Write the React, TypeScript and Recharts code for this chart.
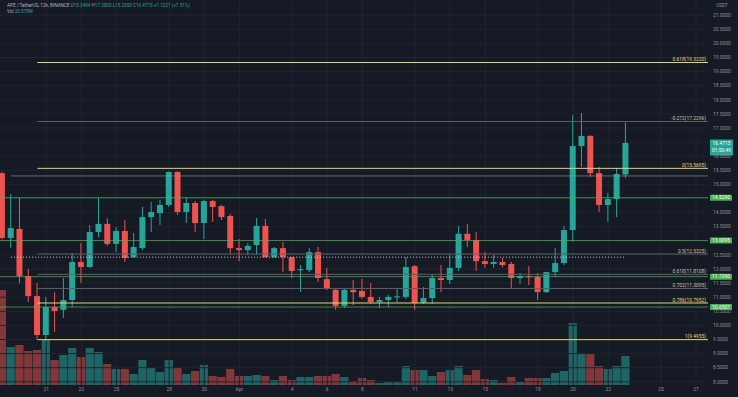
import React from 'react';
import { ComposedChart, Bar, XAxis, YAxis, CartesianGrid, ReferenceLine, Cell } from 'recharts';

// ---- data (12h candles, APE/USDT) ----
const opens = [15.40, 13.10, 13.42, 11.75, 11.04, 9.66, 10.65, 10.55, 10.90, 12.25, 12.07, 13.31, 13.60, 12.89, 13.35, 12.43, 12.74, 13.84, 13.98, 14.27, 15.44, 14.02, 14.34, 13.63, 14.41, 14.23, 13.88, 12.74, 12.67, 12.85, 13.53, 12.42, 12.74, 12.42, 11.96, 11.96, 12.60, 11.64, 11.26, 10.69, 11.26, 11.22, 11.01, 10.83, 10.90, 11.00, 11.01, 12.10, 10.80, 10.97, 11.68, 11.61, 12.04, 13.25, 13.03, 12.28, 12.18, 12.25, 12.18, 11.68, 11.74, 11.72, 11.18, 11.89, 12.21, 13.38, 16.36, 16.72, 15.40, 14.27, 14.48, 15.35];
const highs = [15.45, 14.65, 14.52, 12.00, 11.50, 11.00, 11.18, 11.68, 12.57, 12.92, 13.56, 14.52, 13.80, 13.49, 13.74, 13.28, 14.20, 14.38, 14.45, 15.46, 15.47, 14.55, 14.41, 14.45, 14.45, 14.27, 13.95, 13.06, 12.92, 13.81, 13.77, 12.78, 12.96, 12.44, 12.14, 12.74, 12.78, 12.04, 11.29, 11.29, 11.61, 11.65, 11.50, 11.01, 11.08, 11.33, 12.42, 12.14, 11.36, 11.79, 12.14, 12.50, 13.53, 13.60, 13.31, 12.60, 12.50, 12.39, 12.25, 11.86, 12.10, 11.86, 11.90, 12.74, 13.53, 17.46, 17.53, 16.75, 15.62, 14.70, 15.58, 17.20];
const lows = [13.05, 12.75, 11.50, 10.83, 9.50, 9.45, 9.77, 10.26, 10.65, 11.50, 12.04, 13.13, 12.82, 12.60, 12.25, 12.39, 12.67, 13.31, 13.56, 14.20, 13.92, 13.63, 13.31, 13.06, 13.67, 13.74, 12.53, 12.28, 12.50, 12.50, 12.40, 12.39, 11.89, 11.68, 11.18, 11.89, 11.54, 11.25, 10.55, 10.62, 10.72, 10.94, 10.76, 10.62, 10.65, 10.83, 10.94, 10.55, 10.76, 10.76, 11.18, 11.47, 11.93, 12.78, 11.93, 12.04, 12.04, 12.07, 11.33, 11.47, 11.43, 10.90, 11.15, 11.72, 12.14, 12.96, 15.62, 15.27, 14.02, 13.67, 13.84, 15.23];
const closes = [13.10, 13.45, 11.75, 11.04, 9.66, 10.65, 10.51, 10.90, 12.25, 12.07, 13.31, 13.60, 12.89, 13.35, 12.39, 12.78, 13.84, 14.02, 14.27, 15.44, 14.02, 14.34, 13.63, 14.41, 14.20, 13.84, 12.74, 12.67, 12.82, 13.53, 12.42, 12.74, 12.42, 11.93, 11.99, 12.60, 11.68, 11.29, 10.69, 11.26, 11.18, 11.01, 10.83, 10.90, 11.01, 11.03, 12.07, 10.80, 10.97, 11.68, 11.61, 12.04, 13.25, 13.03, 12.28, 12.18, 12.25, 12.14, 11.68, 11.75, 11.71, 11.18, 11.89, 12.21, 13.38, 16.36, 16.72, 15.40, 14.27, 14.48, 15.37, 16.47];
const volumes = [9.5, 3.8, 4.0, 3.4, 3.5, 4.5, 2.5, 3.0, 3.7, 2.8, 3.7, 3.3, 2.1, 1.6, 1.6, 1.1, 2.5, 1.7, 1.3, 2.5, 1.7, 1.1, 1.4, 2.0, 0.9, 0.8, 1.6, 0.9, 0.9, 1.0, 0.9, 0.5, 0.9, 0.5, 0.8, 0.8, 0.9, 0.9, 1.1, 0.8, 0.4, 0.7, 0.5, 0.2, 0.3, 0.3, 1.9, 1.5, 1.5, 0.9, 1.3, 1.5, 1.9, 1.0, 1.5, 0.6, 0.5, 0.2, 0.8, 0.3, 0.7, 0.7, 0.7, 1.2, 1.4, 6.2, 3.2, 3.1, 1.9, 1.6, 1.9, 2.9];

const dateTickIdx = [5, 9, 13, 19, 23, 27, 33, 37, 41, 47, 51, 55, 61, 65, 69, 75, 79];
const dateTickLabels = ['21', '23', '25', '28', '30', 'Apr', '4', '6', '8', '11', '13', '15', '18', '20', '22', '25', '27'];

const priceTicks = [8, 8.5, 9, 9.5, 10, 10.5, 11, 11.5, 12, 12.5, 13.5, 14, 15, 15.5, 16, 17, 17.5, 18, 18.5, 19, 19.5, 20, 20.5, 21];
const gridTicks = [8, 8.5, 9, 9.5, 10, 10.5, 11, 11.5, 12, 12.5, 13, 13.5, 14, 14.5, 15, 15.5, 16, 16.5, 17, 17.5, 18, 18.5, 19, 19.5, 20, 20.5, 21];

const fibPrices = [19.322, 17.2296, 15.5695, 12.5325, 11.8108, 11.3095, 10.7952, 9.4955];
const fibLabels = ['0.618(19.3220)', '-0.272(17.2296)', '0(15.5695)', '0.5(12.5325)', '0.618(11.8108)', '0.702(11.3095)', '0.786(10.7952)', '1(9.4955)'];
const fibYellow = [true, false, true, false, false, false, true, true];
const fibStartIdx = 4;

const greenLevels = [14.529, 13.0095, 11.729, 10.6507];
const rayPrice = 15.30;
const dottedPrice = 12.42;
const lastPrice = 16.4715;
const countdown = '01:50:49';

const X_MIN = -0.262;
const X_MAX = 80.36;
const P_MIN = 7.887;
const P_MAX = 21.539;
const V_MAX = 38.5;

const UP = '#26a69a';
const DOWN = '#ef5350';
const BG = '#161a25';
const YELLOW = '#e3d77a';
const FIB_GRAY = '#5d606a';
const GREEN = '#4caf50';
const TXT = '#8f929b';
const FONT = 'Roboto, "Noto Sans", sans-serif';

const data = opens.map((o, i) => ({
  i,
  o,
  h: highs[i],
  l: lows[i],
  c: closes[i],
  vol: volumes[i],
}));

const Candle = (props: any) => {
  const { x, y, width, height, payload } = props;
  if (x == null || y == null || !payload) return null;
  const cx = x + width / 2;
  const top = Math.min(y, y + height);
  const hh = Math.abs(height);
  const range = payload.h - payload.l || 1;
  const py = (v: number) => top + ((payload.h - v) / range) * hh;
  const up = payload.c >= payload.o;
  const color = up ? UP : DOWN;
  const bTop = py(Math.max(payload.o, payload.c));
  const bBot = py(Math.min(payload.o, payload.c));
  return (
    <g>
      <line x1={cx} x2={cx} y1={top} y2={top + hh} stroke={color} strokeWidth={1} />
      <rect x={cx - 3} y={bTop} width={6} height={Math.max(1, bBot - bTop)} fill={color} />
    </g>
  );
};

const VolBar = (props: any) => {
  const { x, y, width, height, payload } = props;
  if (x == null || y == null || !payload) return null;
  const cx = x + width / 2;
  const up = payload.c >= payload.o;
  return <rect x={cx - 4.1} y={Math.min(y, y + height)} width={8.2} height={Math.abs(height)} fill={up ? UP : DOWN} fillOpacity={up ? 0.55 : 0.5} />;
};

const FibLabel = (props: any) => {
  const vb = props.viewBox || {};
  const right = vb.width != null ? vb.x + vb.width - 2 : 706;
  return (
    <text x={right} y={(vb.y || 0) - 1.3} textAnchor="end" fontSize={4.9} fill={props.color} fontFamily={FONT}>
      {props.text}
    </text>
  );
};

const PriceBox = (props: any) => {
  const vb = props.viewBox || {};
  const left = (vb.x || 0) + (vb.width || 708) + 2;
  const y = vb.y || 0;
  return (
    <g>
      <rect x={left} y={y - 3} width={22} height={6} fill={GREEN} rx={0.5} />
      <text x={left + 11} y={y + 1.7} textAnchor="middle" fontSize={4.9} fill="#ffffff" fontFamily={FONT}>
        {props.text}
      </text>
    </g>
  );
};

const LastBox = (props: any) => {
  const vb = props.viewBox || {};
  const left = (vb.x || 0) + (vb.width || 708) + 2;
  const y = vb.y || 0;
  return (
    <g>
      <rect x={left} y={y - 3.5} width={23} height={16} fill={UP} rx={0.5} />
      <text x={left + 11.5} y={y + 2.2} textAnchor="middle" fontSize={4.9} fill="#ffffff" fontFamily={FONT}>
        {props.text}
      </text>
      <text x={left + 11.5} y={y + 8.6} textAnchor="middle" fontSize={4.9} fill="#ffffff" fontFamily={FONT}>
        {props.sub}
      </text>
    </g>
  );
};

const dateFmt = (v: number) => {
  const k = dateTickIdx.indexOf(v);
  return k >= 0 ? dateTickLabels[k] : '';
};

export default function App() {
  return (
    <div style={{ position: 'absolute', left: 0, top: 0, width: 738, height: 397, background: BG, overflow: 'hidden' }}>
      <div style={{ position: 'absolute', left: 0, top: 0 }}>
        <ComposedChart width={738} height={397} data={data} margin={{ top: 0, right: 0, bottom: 0, left: 0 }}>
          <XAxis dataKey="i" type="number" domain={[X_MIN, X_MAX]} allowDataOverflow ticks={dateTickIdx} tick={false} axisLine={false} tickLine={false} height={12} />
          <YAxis yAxisId="v" orientation="right" width={30} domain={[0, V_MAX]} allowDataOverflow tick={false} axisLine={false} tickLine={false} />
          <Bar yAxisId="v" dataKey="vol" barSize={8} shape={<VolBar />} isAnimationActive={false}>
            {data.map((d, k) => (
              <Cell key={k} fill={d.c >= d.o ? UP : DOWN} />
            ))}
          </Bar>
        </ComposedChart>
      </div>
      <div style={{ position: 'absolute', left: 0, top: 0 }}>
        <ComposedChart width={738} height={397} data={data} margin={{ top: 0, right: 0, bottom: 0, left: 0 }}>
          <CartesianGrid stroke="#20242f" strokeWidth={1} yAxisId="p" horizontalValues={gridTicks} verticalValues={dateTickIdx} />
          <XAxis
            dataKey="i"
            type="number"
            domain={[X_MIN, X_MAX]}
            allowDataOverflow
            ticks={dateTickIdx}
            interval={0}
            tickFormatter={dateFmt}
            axisLine={false}
            tickLine={false}
            tickSize={2}
            tickMargin={1}
            height={12}
            tick={{ fontSize: 4.9, fill: TXT, fontFamily: FONT }}
          />
          <YAxis
            yAxisId="p"
            orientation="right"
            width={30}
            domain={[P_MIN, P_MAX]}
            allowDataOverflow
            ticks={priceTicks}
            interval={0}
            tickFormatter={(v: number) => v.toFixed(4)}
            axisLine={false}
            tickLine={false}
            tickSize={3}
            tickMargin={2}
            tick={{ fontSize: 4.9, fill: TXT, fontFamily: FONT, textAnchor: 'start' }}
          />
          <ReferenceLine yAxisId="p" segment={[{ x: 1, y: rayPrice }, { x: X_MAX, y: rayPrice }]} stroke="#9a9da6" strokeOpacity={0.6} strokeWidth={1} ifOverflow="visible" />
          <ReferenceLine yAxisId="p" segment={[{ x: 1, y: dottedPrice }, { x: 71, y: dottedPrice }]} stroke="#c9cbd2" strokeDasharray="1 2" strokeWidth={1} ifOverflow="visible" />
          {greenLevels.map((p, k) => (
            <ReferenceLine key={'g' + k} yAxisId="p" y={p} stroke={GREEN} strokeOpacity={0.75} strokeWidth={1} label={<PriceBox text={p.toFixed(4)} />} />
          ))}
          {fibPrices.map((p, k) => (
            <ReferenceLine
              key={'f' + k}
              yAxisId="p"
              segment={[{ x: fibStartIdx, y: p }, { x: X_MAX, y: p }]}
              stroke={fibYellow[k] ? YELLOW : FIB_GRAY}
              strokeWidth={1}
              ifOverflow="visible"
              label={<FibLabel text={fibLabels[k]} color={fibYellow[k] ? YELLOW : '#c9c7a8'} />}
            />
          ))}
          <ReferenceLine yAxisId="p" y={lastPrice} stroke={UP} strokeOpacity={0} label={<LastBox text={lastPrice.toFixed(4)} sub={countdown} />} />
          <Bar yAxisId="p" dataKey={(d: any) => [d.l, d.h]} barSize={6} shape={<Candle />} isAnimationActive={false} />
        </ComposedChart>
      </div>
      <svg style={{ position: 'absolute', left: 0, top: 0 }} width={738} height={16}>
        <text x={7} y={6.6} fontSize={4.6} fontFamily={FONT} fill="#b2b5be">
          APE / TetherUS, 12h, BINANCE{'  '}
          <tspan fill={TXT}>O</tspan><tspan fill={UP}>15.3494 </tspan>
          <tspan fill={TXT}>H</tspan><tspan fill={UP}>17.2000 </tspan>
          <tspan fill={TXT}>L</tspan><tspan fill={UP}>15.2300 </tspan>
          <tspan fill={TXT}>C</tspan><tspan fill={UP}>16.4715 +1.1221 (+7.31%)</tspan>
        </text>
        <text x={7} y={12.6} fontSize={4.6} fontFamily={FONT} fill="#b2b5be">
          Vol <tspan fill={UP}>20.578M</tspan>
        </text>
        <text x={722} y={6.5} textAnchor="middle" fontSize={4.6} fontFamily={FONT} fill={TXT}>USDT</text>
      </svg>
    </div>
  );
}
